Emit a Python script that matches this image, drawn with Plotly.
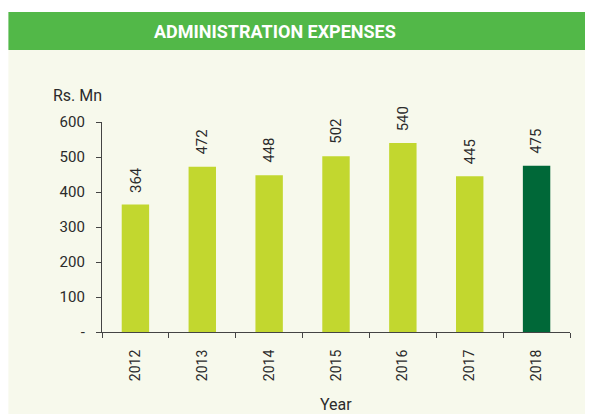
import plotly.graph_objs as go

# Data
years = ['2012', '2013', '2014', '2015', '2016', '2017', '2018']
expenses = [364, 472, 448, 502, 540, 445, 475]
y_ticks = [0, 100, 200, 300, 400, 500, 600]
y_tick_labels = ['-', '100', '200', '300', '400', '500', '600']

LIME = '#C2D72F'
DARK_GREEN = '#006838'
HEADER_GREEN = '#52B848'
CREAM = '#F7F9EC'
TEXT = '#2B2B2B'
FONT = 'Roboto'

bar_colors = [LIME] * (len(years) - 1) + [DARK_GREEN]

fig = go.Figure()
fig.add_trace(
    go.Bar(x=years,
           y=expenses,
           width=0.41,
           marker=dict(color=bar_colors, line=dict(width=0)),
           hoverinfo='x+y'))

# value labels, rotated (category index, since '2012' would be read as a number)
for i, val in enumerate(expenses):
    fig.add_annotation(x=i, y=val, text=str(val), showarrow=False,
                       textangle=-90, yanchor='bottom', yshift=10,
                       font=dict(family=FONT, size=15, color=TEXT))

# background panel and header band
fig.add_shape(type='rect', xref='paper', yref='paper',
              x0=-0.2, x1=1.07, y0=-0.40, y1=1.343,
              fillcolor=CREAM, line=dict(width=0), layer='below')
fig.add_shape(type='rect', xref='paper', yref='paper',
              x0=-0.2, x1=1.07, y0=1.343, y1=1.524,
              fillcolor=HEADER_GREEN, line=dict(width=0), layer='below')

fig.add_annotation(xref='paper', yref='paper', x=0.37, y=1.433,
                   xanchor='center', yanchor='middle',
                   text='<b>ADMINISTRATION EXPENSES</b>', showarrow=False,
                   font=dict(family=FONT, size=18, color='white'))
fig.add_annotation(xref='paper', yref='paper', x=0.004, y=1.128,
                   xanchor='right', yanchor='middle',
                   text='Rs. Mn', showarrow=False,
                   font=dict(family=FONT, size=16, color=TEXT))
fig.add_annotation(xref='paper', yref='paper', x=0.5, y=-0.343,
                   xanchor='center', yanchor='middle',
                   text='Year', showarrow=False,
                   font=dict(family=FONT, size=16, color=TEXT))

# page body adds an 8px offset, so the figure is 8px smaller on top/left
fig.update_layout(
    width=585, height=406,
    margin=dict(l=94, r=23, t=114, b=82, autoexpand=False),
    paper_bgcolor='white',
    plot_bgcolor=CREAM,
    showlegend=False,
    font=dict(family=FONT, color=TEXT),
    xaxis=dict(type='category', range=[-0.5, 6.5], automargin=False,
               showline=True, linecolor='#444', linewidth=1.2,
               ticks='outside', tickson='boundaries', ticklen=5,
               tickcolor='#444', tickangle=-90, ticklabelstandoff=11,
               tickfont=dict(size=14, color=TEXT),
               showgrid=False),
    yaxis=dict(range=[0, 600], tickvals=y_ticks, ticktext=y_tick_labels,
               automargin=False,
               showline=True, linecolor='#444', linewidth=1.2,
               ticks='outside', ticklen=5, tickcolor='#444',
               ticklabelstandoff=8,
               tickfont=dict(size=15, color=TEXT),
               showgrid=False, zeroline=False),
)

fig.write_html("out.html")
